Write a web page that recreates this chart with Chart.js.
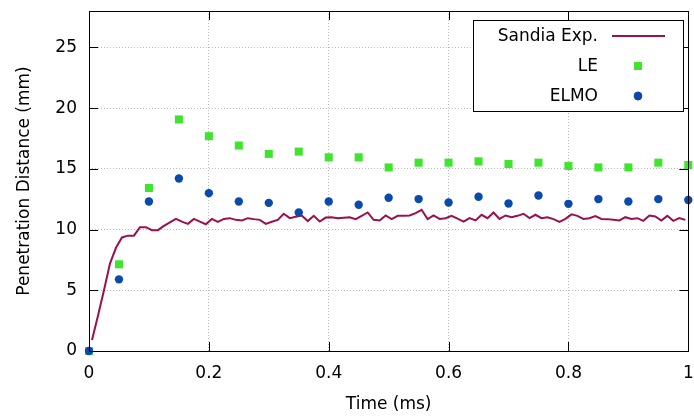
<!DOCTYPE html>
<html>
<head>
<meta charset="utf-8">
<script src="https://cdn.jsdelivr.net/npm/chart.js@4/dist/chart.umd.min.js"></script>
<style>
  html, body { margin: 0; padding: 0; background: #fff; }
  #wrap { width: 694px; height: 419px; }
</style>
</head>
<body>
<div id="wrap"><canvas id="penChart" width="694" height="419"></canvas></div>
<script>
// experiment: sampled every 0.01 ms
const sandiaTime = [];
for (let i = 0; i < 100; i++) sandiaTime.push(+(0.005 + i * 0.01).toFixed(3));
const sandiaValues = [
    0.9, 2.9, 5.0, 7.2, 8.5, 9.35, 9.5, 9.5, 10.2, 10.2,
    9.95, 9.95, 10.3, 10.6, 10.88, 10.65, 10.47, 10.88, 10.66, 10.44,
    10.88, 10.64, 10.88, 10.94, 10.8, 10.75, 10.94, 10.86, 10.8, 10.47,
    10.64, 10.8, 11.3, 10.94, 11.05, 11.15, 10.7, 11.13, 10.66, 10.99,
    11.02, 10.94, 10.98, 11.02, 10.86, 11.13, 11.41, 10.8, 10.75, 11.16,
    10.86, 11.13, 11.13, 11.16, 11.35, 11.63, 10.86, 11.16, 10.88, 10.94,
    11.13, 10.9, 10.66, 10.94, 10.75, 11.22, 10.94, 11.41, 10.88, 11.16,
    11.02, 11.13, 11.3, 10.94, 11.22, 10.94, 11.02, 10.86, 10.63, 10.88,
    11.25, 11.13, 10.88, 10.94, 11.11, 10.88, 10.86, 10.8, 10.75, 11.02,
    10.88, 10.94, 10.72, 11.16, 11.08, 10.75, 11.13, 10.72, 10.94, 10.8
];

// simulations: every 0.05 ms
const simTime = [0, 0.05, 0.1, 0.15, 0.2, 0.25, 0.3, 0.35, 0.4, 0.45, 0.5,
                 0.55, 0.6, 0.65, 0.7, 0.75, 0.8, 0.85, 0.9, 0.95, 1.0];
const leValues = [0, 7.14, 13.42, 19.07, 17.69, 16.92, 16.23, 16.42, 15.95, 15.95, 15.12,
                  15.51, 15.51, 15.62, 15.4, 15.51, 15.24, 15.12, 15.12, 15.51, 15.32];
const elmoValues = [0, 5.9, 12.31, 14.21, 13.0, 12.31, 12.2, 11.4, 12.31, 12.04, 12.62,
                    12.51, 12.23, 12.7, 12.15, 12.81, 12.12, 12.51, 12.31, 12.51, 12.43];

const xTicks = [0, 0.2, 0.4, 0.6, 0.8, 1];
const yTicks = [0, 5, 10, 15, 20, 25];

const FONT = 'DejaVu Sans';
const toXY = (xs, ys) => xs.map((x, i) => ({ x: x, y: ys[i] }));

// gnuplot style frame with inward ticks on all four sides
const framePlugin = {
    id: 'frame',
    afterDatasetsDraw(chart) {
        const { ctx, chartArea: a, scales } = chart;
        const tl = 9;
        ctx.save();
        ctx.strokeStyle = '#000';
        ctx.lineWidth = 1;
        ctx.beginPath();
        scales.x.ticks.forEach(t => {
            const px = Math.round(scales.x.getPixelForValue(t.value)) + 0.5;
            ctx.moveTo(px, a.bottom); ctx.lineTo(px, a.bottom - tl);
            ctx.moveTo(px, a.top); ctx.lineTo(px, a.top + tl);
        });
        scales.y.ticks.forEach(t => {
            const py = Math.round(scales.y.getPixelForValue(t.value)) + 0.5;
            ctx.moveTo(a.left, py); ctx.lineTo(a.left + tl, py);
            ctx.moveTo(a.right, py); ctx.lineTo(a.right - tl, py);
        });
        ctx.stroke();
        ctx.strokeRect(Math.round(a.left) + 0.5, Math.round(a.top) + 0.5,
                       Math.round(a.right - a.left), Math.round(a.bottom - a.top));
        ctx.restore();
    }
};

// key box in the top right corner, text right aligned, sample on the right
const keyPlugin = {
    id: 'key',
    afterDraw(chart) {
        const { ctx } = chart;
        const box = { x: 473.5, y: 20.5, w: 210, h: 91 };
        ctx.save();
        ctx.fillStyle = '#fff';
        ctx.fillRect(box.x, box.y, box.w, box.h);
        ctx.strokeStyle = '#000';
        ctx.lineWidth = 1;
        ctx.strokeRect(box.x, box.y, box.w, box.h);
        ctx.font = '17px "' + FONT + '"';
        ctx.textAlign = 'right';
        ctx.textBaseline = 'middle';
        chart.data.datasets.forEach((ds, i) => {
            const y = 36 + i * 30;
            ctx.fillStyle = '#000';
            ctx.fillText(ds.label, 598, y + 1);
            if (ds.showLine) {
                ctx.strokeStyle = ds.borderColor;
                ctx.lineWidth = 2;
                ctx.beginPath();
                ctx.moveTo(612, y); ctx.lineTo(665, y);
                ctx.stroke();
            } else {
                Chart.helpers.drawPoint(ctx, {
                    pointStyle: ds.pointStyle, radius: ds.pointRadius, borderWidth: 0
                }, 638, y);
                ctx.fillStyle = ds.backgroundColor;
                ctx.fill();
            }
        });
        ctx.restore();
    }
};

new Chart(document.getElementById('penChart'), {
    type: 'scatter',
    data: {
        datasets: [{
            label: 'Sandia Exp.',
            data: toXY(sandiaTime, sandiaValues),
            showLine: true,
            borderColor: '#9a1050',
            backgroundColor: '#9a1050',
            borderWidth: 2,
            pointRadius: 0,
            tension: 0,
            order: 2,
            clip: false
        }, {
            label: 'LE',
            data: toXY(simTime, leValues),
            showLine: false,
            pointStyle: 'rect',
            pointRadius: 5.7,
            pointBorderWidth: 0,
            backgroundColor: '#3fe52c',
            borderColor: '#3fe52c',
            order: 1,
            clip: false
        }, {
            label: 'ELMO',
            data: toXY(simTime, elmoValues),
            showLine: false,
            pointStyle: 'circle',
            pointRadius: 4.2,
            pointBorderWidth: 0,
            backgroundColor: '#0a4aad',
            borderColor: '#0a4aad',
            order: 0,
            clip: false
        }]
    },
    options: {
        responsive: false,
        animation: false,
        events: [],
        layout: { padding: { left: 0, right: 5, top: 11, bottom: 0 } },
        plugins: { legend: { display: false }, tooltip: { enabled: false } },
        scales: {
            x: {
                type: 'linear',
                min: 0, max: 1,
                afterBuildTicks: s => { s.ticks = xTicks.map(v => ({ value: v })); },
                afterFit: s => { s.height = 68; s.paddingLeft = 0; s.paddingRight = 0; },
                ticks: {
                    padding: 12,
                    color: '#000',
                    font: { family: FONT, size: 17 },
                    maxRotation: 0,
                    callback: v => String(+v.toFixed(1))
                },
                grid: { color: '#bbb', lineWidth: 1, drawTicks: false },
                border: { display: false, dash: [1, 2] },
                title: {
                    display: true, text: 'Time (ms)', color: '#000',
                    font: { family: FONT, size: 17 },
                    padding: { top: 0, bottom: 4 }
                }
            },
            y: {
                type: 'linear',
                min: 0, max: 28,
                afterBuildTicks: s => { s.ticks = yTicks.map(v => ({ value: v })); },
                afterFit: s => { s.width = 89; s.paddingTop = 0; s.paddingBottom = 0; },
                ticks: {
                    padding: 12,
                    color: '#000',
                    font: { family: FONT, size: 17 },
                    callback: v => String(v)
                },
                grid: { color: '#bbb', lineWidth: 1, drawTicks: false },
                border: { display: false, dash: [1, 2] },
                title: {
                    display: true, text: 'Penetration Distance (mm)', color: '#000',
                    font: { family: FONT, size: 17 },
                    padding: { top: 14, bottom: 0 }
                }
            }
        }
    },
    plugins: [framePlugin, keyPlugin]
});
</script>
</body>
</html>
